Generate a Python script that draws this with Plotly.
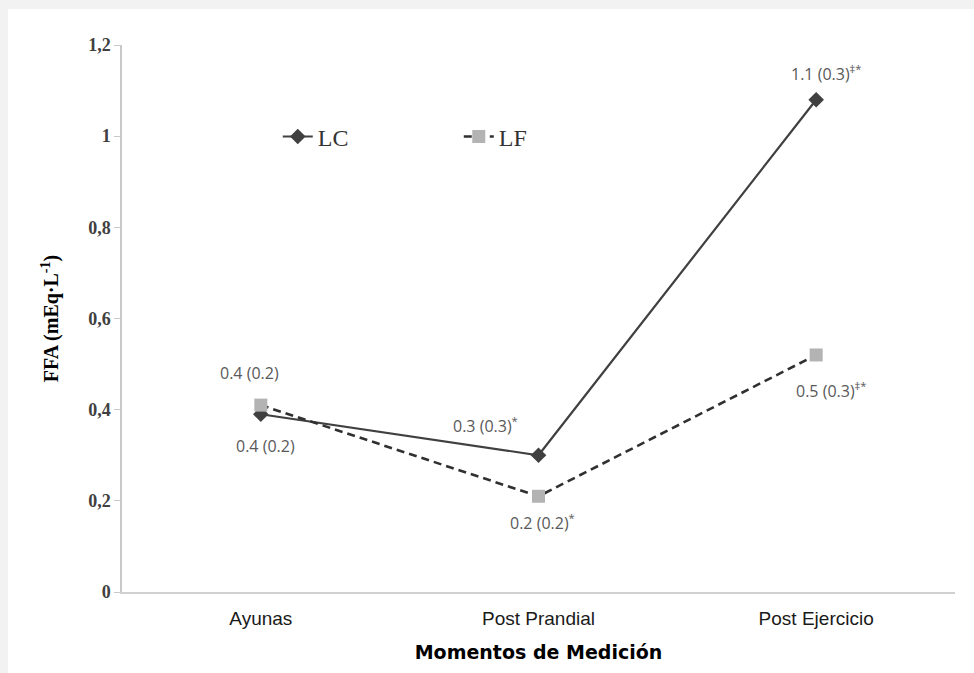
import plotly.graph_objects as go

categories = ["Ayunas", "Post Prandial", "Post Ejercicio"]
lc_values = [0.39, 0.30, 1.08]
lf_values = [0.41, 0.21, 0.52]
lc_labels = ["0.4 (0.2)", "0.3 (0.3)<sup>*</sup>", "1.1 (0.3)<sup>‡*</sup>"]
lf_labels = ["0.4 (0.2)", "0.2 (0.2)<sup>*</sup>", "0.5 (0.3)<sup>‡*</sup>"]
y_tickvals = [0, 0.2, 0.4, 0.6, 0.8, 1.0, 1.2]
y_ticktext = ["0", "0,2", "0,4", "0,6", "0,8", "1", "1,2"]

lc_offsets = [(5, -32), (-53, 30), (10, 27)]
lf_offsets = [(-11, 32), (4, -26), (15, -35)]

fig = go.Figure()
fig.add_trace(go.Scatter(
    x=categories, y=lc_values, name="LC", mode="lines+markers",
    line=dict(color="#404040", width=2.2),
    marker=dict(symbol="diamond", size=12, color="#404040"),
))
fig.add_trace(go.Scatter(
    x=categories, y=lf_values, name="LF", mode="lines+markers",
    line=dict(color="#303030", width=2.6, dash="8px,5px"),
    marker=dict(symbol="square", size=13, color="#b3b3b3"),
))

annotations = []
for cat, val, lab, (dx, dy) in zip(categories, lc_values, lc_labels, lc_offsets):
    annotations.append(dict(x=cat, y=val, text=lab, showarrow=False, xshift=dx, yshift=dy,
                            font=dict(family="Open Sans", size=16, color="#595959")))
for cat, val, lab, (dx, dy) in zip(categories, lf_values, lf_labels, lf_offsets):
    annotations.append(dict(x=cat, y=val, text=lab, showarrow=False, xshift=dx, yshift=dy,
                            font=dict(family="Open Sans", size=16, color="#595959")))

fig.update_layout(
    width=974, height=673,
    margin=dict(l=122, r=19, t=45, b=81),
    paper_bgcolor="#f2f2f2",
    plot_bgcolor="white",
    showlegend=True,
    legend=dict(orientation="h", x=0.187, y=0.832, xanchor="left", yanchor="middle",
                bgcolor="rgba(0,0,0,0)", font=dict(family="Liberation Serif", size=24, color="#333333"),
                entrywidth=136),
    annotations=annotations,
    shapes=[dict(type="rect", xref="paper", yref="paper", x0=-0.137, x1=1.03, y0=-0.16, y1=1.0658,
                 fillcolor="white", line=dict(width=0), layer="below")],
)
fig.update_xaxes(
    type="category", range=[-0.5, 2.5],
    showline=True, linecolor="#d0d0d0", linewidth=2, showgrid=False, zeroline=False,
    ticks="", tickfont=dict(family="Liberation Sans", size=19, color="#1a1a1a"),
    ticklabelstandoff=8,
    title=dict(text="<b>Momentos de Medición</b>", standoff=18,
               font=dict(family="DejaVu Sans", size=19, color="#000000")),
)
fig.update_yaxes(
    range=[0, 1.2], tickvals=y_tickvals, ticktext=y_ticktext,
    showline=True, linecolor="#c8c8c8", linewidth=1.5, showgrid=False, zeroline=False,
    ticks="outside", ticklen=6, tickcolor="#c8c8c8",
    tickfont=dict(family="Liberation Serif", size=18, color="#404040", weight="bold"),
    title=dict(text="<b>FFA (mEq·L<sup>-1</sup>)</b>", standoff=24,
               font=dict(family="Liberation Serif", size=20, color="#000000")),
)

fig.write_html("out.html")
